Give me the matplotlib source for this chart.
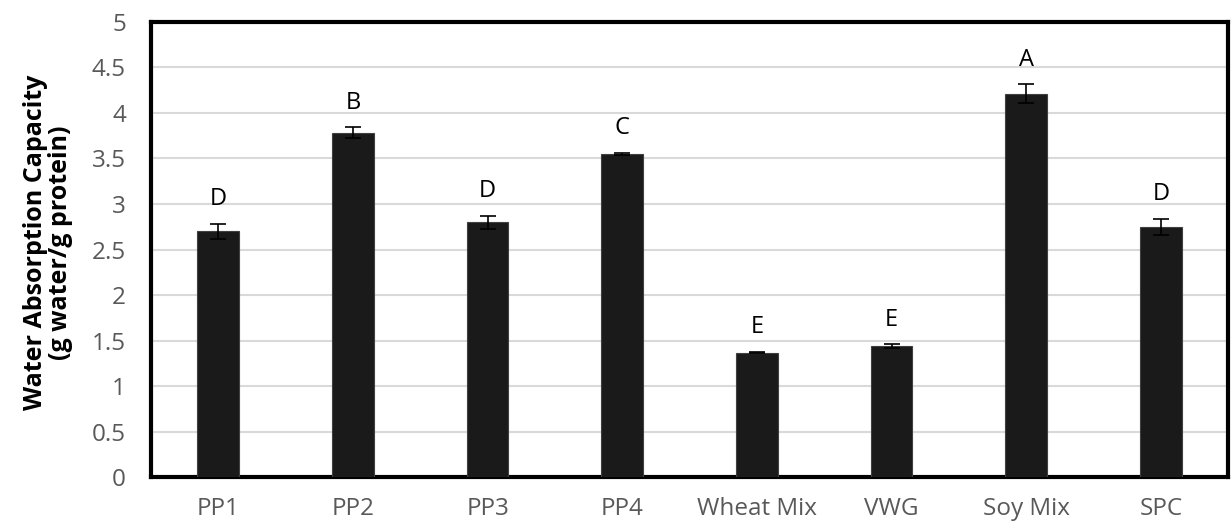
import matplotlib
matplotlib.use("Agg")
import matplotlib.pyplot as plt
import numpy as np

samples = ["PP1", "PP2", "PP3", "PP4", "Wheat Mix", "VWG", "Soy Mix", "SPC"]
wac = [2.70, 3.78, 2.80, 3.55, 1.37, 1.44, 4.21, 2.75]
wac_sd = [0.08, 0.06, 0.07, 0.01, 0.01, 0.02, 0.10, 0.09]
groups = ["D", "B", "D", "C", "E", "E", "A", "D"]
yticks = [0, 0.5, 1, 1.5, 2, 2.5, 3, 3.5, 4, 4.5, 5]
ytick_labels = ["0", "0.5", "1", "1.5", "2", "2.5", "3", "3.5", "4", "4.5", "5"]

plt.rcParams["font.family"] = ["Open Sans", "DejaVu Sans"]

fig = plt.figure(figsize=(12.32, 5.25), dpi=100)
ax = fig.add_axes([0.1225, 0.0905, 0.8745, 0.8685])

x = np.arange(len(samples))
ax.bar(x, wac, width=0.31, color="#1a1a1a", edgecolor="#404040", linewidth=0.8, zorder=3)
ax.errorbar(x, wac, yerr=wac_sd, fmt="none", ecolor="black", elinewidth=1.2,
            capsize=6, capthick=1.2, zorder=4)

for xi, v, e, g in zip(x, wac, wac_sd, groups):
    ax.text(xi, v + e + 0.14, g, ha="center", va="bottom", fontsize=17, color="black")

ax.set_xlim(-0.5, len(samples) - 0.5)
ax.set_ylim(0, 5)
ax.set_yticks(yticks)
ax.set_yticklabels(ytick_labels)
ax.set_xticks(x)
ax.set_xticklabels(samples)
ax.tick_params(axis="both", length=0, labelsize=17.5, colors="#595959")
ax.tick_params(axis="x", pad=14)
ax.tick_params(axis="y", pad=18)
ax.yaxis.grid(True, color="#d9d9d9", linewidth=1.5, zorder=0)
ax.set_axisbelow(True)

for sp in ax.spines.values():
    sp.set_linewidth(3)
    sp.set_color("black")

ax.set_ylabel("Water Absorption Capacity\n(g water/g protein)", fontsize=18,
              fontweight="bold", color="black", linespacing=1.0)
ax.yaxis.set_label_coords(-0.072, 0.515)

fig.savefig("out.png", dpi=100, facecolor="white")
